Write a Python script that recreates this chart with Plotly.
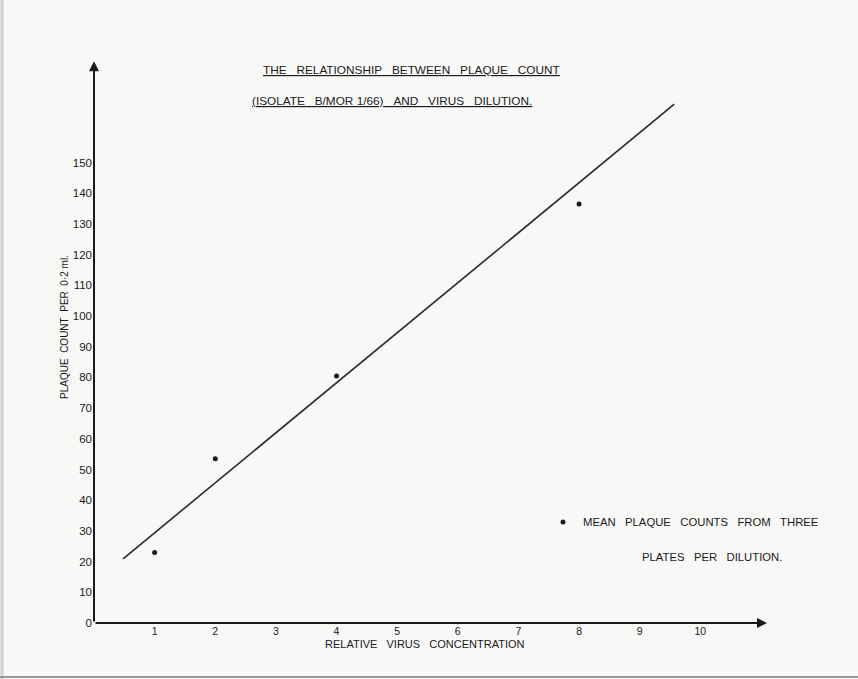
import plotly.graph_objects as go

# Data
conc = [1, 2, 4, 8]                       # relative virus concentration
plaques = [23, 53.5, 80.5, 136.5]         # mean plaque count per 0.2 ml
fit_x = [0.48, 9.57]                      # drawn regression line ends
fit_y = [20.9, 169]
x_ticks = [1, 2, 3, 4, 5, 6, 7, 8, 9, 10]
y_ticks = [0, 10, 20, 30, 40, 50, 60, 70, 80, 90, 100, 110, 120, 130, 140, 150]

FONT = "Liberation Sans"
INK = "#1a1a1a"
SP = "\u00a0\u00a0\u00a0"
SP2 = "\u00a0\u00a0"

W, H = 858, 679
L, R, T, B = 94, 91, 60, 56
PW, PH = W - L - R, H - T - B


def px(x):
    return (x - L) / PW


def py(y):
    return (H - B - y) / PH


fig = go.Figure()
fig.add_trace(go.Scatter(x=fit_x, y=fit_y, mode="lines",
                         line=dict(color="#2a2a2a", width=1.6),
                         showlegend=False, hoverinfo="skip"))
fig.add_trace(go.Scatter(x=conc, y=plaques, mode="markers",
                         marker=dict(color=INK, size=5),
                         name="MEAN" + SP + "PLAQUE" + SP + "COUNTS" + SP + "FROM" + SP + "THREE",
                         showlegend=True))

anns = []
# axes with arrowheads
anns.append(dict(x=11.1, y=0, ax=0, ay=0, xref="x", yref="y", axref="x", ayref="y",
                 showarrow=True, arrowhead=2, arrowsize=1, arrowwidth=2, arrowcolor=INK, text=""))
anns.append(dict(x=0, y=183, ax=0, ay=0, xref="x", yref="y", axref="x", ayref="y",
                 showarrow=True, arrowhead=2, arrowsize=1, arrowwidth=2, arrowcolor=INK, text=""))

texts = [
    ("<u>THE" + SP + "RELATIONSHIP" + SP + "BETWEEN" + SP + "PLAQUE" + SP + "COUNT</u>", 411, 70, 11.8),
    ("<u>(ISOLATE" + SP + "B/MOR 1/66)" + SP + "AND" + SP + "VIRUS" + SP + "DILUTION.</u>", 392, 101, 11.8),
    ("PLATES" + SP + "PER" + SP + "DILUTION.", 712, 557, 11.3),
    ("RELATIVE" + SP + "VIRUS" + SP + "CONCENTRATION", 425, 644, 11),
]
for t, x, y, s in texts:
    anns.append(dict(text=t, x=px(x), y=py(y), xref="paper", yref="paper",
                     xanchor="center", yanchor="middle", showarrow=False,
                     font=dict(family=FONT, size=s, color=INK)))
anns.append(dict(text="PLAQUE" + SP2 + "COUNT" + SP2 + "PER" + SP2 + "0·2 ml.", textangle=-90,
                 x=px(64), y=py(327), xref="paper", yref="paper",
                 xanchor="center", yanchor="middle", showarrow=False,
                 font=dict(family=FONT, size=10, color=INK)))

fig.update_layout(
    width=W, height=H,
    margin=dict(l=L, r=R, t=T, b=B),
    paper_bgcolor="#f8f8f6", plot_bgcolor="rgba(0,0,0,0)",
    font=dict(family=FONT, size=11, color=INK),
    xaxis=dict(range=[0, 11.1], showgrid=False, zeroline=False, showline=False,
               tickvals=x_ticks, ticktext=[str(v) for v in x_ticks], ticks="",
               tickfont=dict(family=FONT, size=10.5, color=INK)),
    yaxis=dict(range=[0, 183.4], showgrid=False, zeroline=False, showline=False,
               tickvals=y_ticks, ticktext=[str(v) for v in y_ticks], ticks="",
               ticklabelstandoff=1,
               tickfont=dict(family=FONT, size=11.5, color=INK)),
    legend=dict(x=px(543), y=py(522), xanchor="left", yanchor="middle",
                bgcolor="rgba(0,0,0,0)", font=dict(family=FONT, size=11.3, color=INK),
                itemwidth=30),
    annotations=anns,
    shapes=[
        dict(type="line", xref="paper", yref="paper", x0=px(2), x1=px(2), y0=py(H), y1=py(0),
             line=dict(color="#d2d2cf", width=3)),
        dict(type="line", xref="paper", yref="paper", x0=px(0), x1=px(W), y0=py(H - 2), y1=py(H - 2),
             line=dict(color="#9a9a98", width=2)),
    ],
)

fig.write_html("out.html", config={"displayModeBar": False},
               post_script="document.body.style.margin='0';document.body.style.background='#f8f8f6';")
